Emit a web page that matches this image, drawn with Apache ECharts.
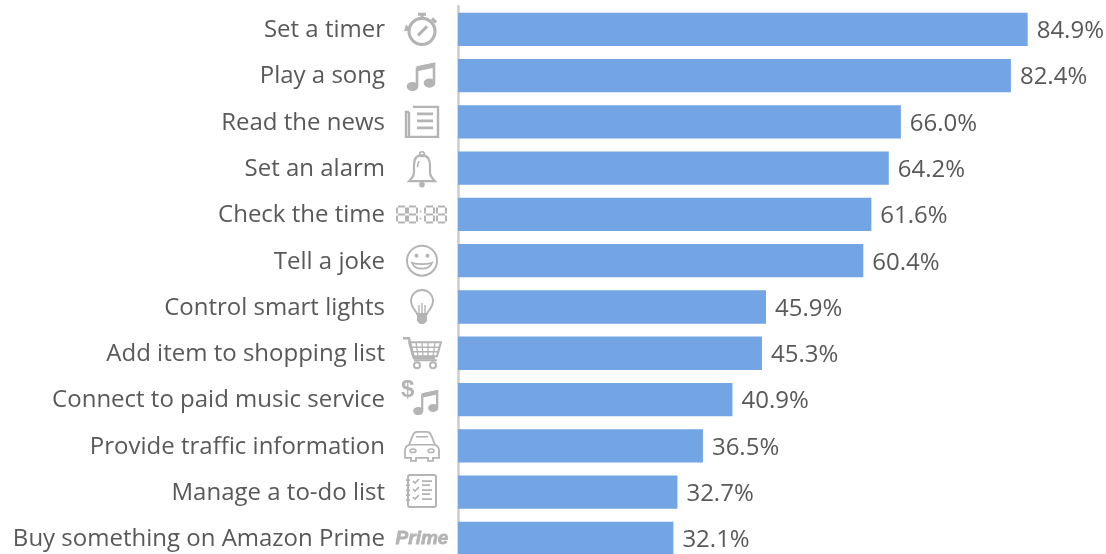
<!DOCTYPE html>
<html><head><meta charset="utf-8">
<style>html,body{margin:0;padding:0;background:#fff;overflow:hidden}#c{width:1106px;height:554px}</style>
<script src="https://cdn.jsdelivr.net/npm/echarts@6/dist/echarts.min.js"></script>
</head><body><div id="c"></div>
<script>
const categories = ["Set a timer","Play a song","Read the news","Set an alarm","Check the time","Tell a joke","Control smart lights","Add item to shopping list","Connect to paid music service","Provide traffic information","Manage a to-do list","Buy something on Amazon Prime"];
const values = [84.9,82.4,66.0,64.2,61.6,60.4,45.9,45.3,40.9,36.5,32.7,32.1];
const G = "#b4b4b4";
const digit = x => `<g transform="translate(${x} 0)" fill="none" stroke="${G}" stroke-width="2"><path d="M1 12h7M1 20h7M1 28h7M0 13v6M0 21v6M9 13v6M9 21v6"/></g>`;
const noteGlyph = `<path d="M15 10 L15 28 M15 10 L32 6.5 V25" fill="none" stroke="${G}" stroke-width="2.6"/><path d="M14.5 9 L33 5 V10 L14.5 14Z" fill="${G}"/><ellipse cx="10.5" cy="29" rx="5.8" ry="4.6" fill="${G}"/><ellipse cx="27.5" cy="25.5" rx="5.8" ry="4.6" fill="${G}"/>`;
const icons = [
 `<circle cx="27" cy="22" r="13" fill="none" stroke="${G}" stroke-width="3.2"/><path d="M23 5h8M27 5v4M37 9l4 4" stroke="${G}" stroke-width="3" fill="none"/><path d="M23 26l9-9" stroke="${G}" stroke-width="3"/><path d="M11 15l5 6-7 1z" fill="${G}"/>`,
 `<g transform="translate(7 2)">${noteGlyph}</g>`,
 `<path d="M18 5H43V35H14V10M14 10H11V35H16" fill="none" stroke="${G}" stroke-width="2.4"/><path d="M22 12H38M22 19H38M22 26H38" stroke="${G}" stroke-width="2.6"/>`,
 `<path d="M27 7c-6 0-8 5-8 10v7c0 4-2 6-5 9h26c-3-3-5-5-5-9v-7c0-5-2-10-8-10z" fill="none" stroke="${G}" stroke-width="2.2"/><circle cx="27" cy="6" r="2.4" fill="none" stroke="${G}" stroke-width="1.6"/><circle cx="27" cy="36.5" r="2.8" fill="${G}"/><path d="M24 13c-1 2-1.5 4-1.5 6" stroke="${G}" stroke-width="1.6" fill="none"/>`,
 digit(2)+digit(13)+`<circle cx="25.500" cy="17" r="1" fill="${G}"/><circle cx="25.500" cy="24" r="1" fill="${G}"/>`+digit(30)+digit(42),
 `<circle cx="27" cy="20" r="15" fill="none" stroke="${G}" stroke-width="2"/><circle cx="21.5" cy="15" r="2" fill="${G}"/><circle cx="32.5" cy="15" r="2" fill="${G}"/><path d="M17 22c3 8 17 8 20 0c-5 2-15 2-20 0z" fill="none" stroke="${G}" stroke-width="1.8"/>`,
 `<path d="M22 27c-1-4-6-6-6-13a11 11 0 0 1 22 0c0 7-5 9-6 13z" fill="none" stroke="${G}" stroke-width="1.8"/><path d="M24 27v-9M27 27v-11M30 27v-9" stroke="${G}" stroke-width="1.4"/><path d="M22 27h10v7l-3 3h-4l-3-3z" fill="${G}"/>`,
 `<path d="M8 5h6l5 20h21" fill="none" stroke="${G}" stroke-width="2.4"/><path d="M14 9H46L42 23H18z" fill="none" stroke="${G}" stroke-width="2"/><path d="M21 9l2 14M27 9l1 14M33 9v14M40 9l-2 14M15 14H45M16 18.500H44" stroke="${G}" stroke-width="1.3"/><circle cx="22" cy="32" r="3" fill="none" stroke="${G}" stroke-width="2"/><circle cx="38" cy="32" r="3" fill="none" stroke="${G}" stroke-width="2"/><path d="M19 27H42" stroke="${G}" stroke-width="2"/>`,
 `<text x="6" y="17" font-family="Liberation Sans" font-weight="700" font-size="24" fill="${G}">$</text><g transform="translate(14 6) scale(.88)">${noteGlyph}</g>`,
 `<path d="M14 19l4-10c1-2 2-3 4-3h10c2 0 3 1 4 3l4 10c3 1 4 3 4 6v7h-6v3h-5v-3H21v3h-5v-3h-6v-7c0-3 1-5 4-6z" fill="none" stroke="${G}" stroke-width="1.8"/><path d="M14 19H40M21 11h12" stroke="${G}" stroke-width="1.5"/><ellipse cx="18" cy="25" rx="3" ry="1.8" fill="none" stroke="${G}" stroke-width="1.5"/><ellipse cx="36" cy="25" rx="3" ry="1.8" fill="none" stroke="${G}" stroke-width="1.5"/>`,
 `<rect x="13" y="3" width="28" height="32" rx="2" fill="none" stroke="${G}" stroke-width="2"/><path d="M11 8h4M11 13h4M11 18h4M11 23h4M11 28h4" stroke="${G}" stroke-width="1.6"/><path d="M18 9l2 2 4-4M18 17l2 2 4-4M18 25l2 2 4-4" fill="none" stroke="${G}" stroke-width="1.6"/><path d="M27 9h10M27 13h8M27 18h10M27 22h8M27 27h10" stroke="${G}" stroke-width="1.6"/>`,
 `<text x="27" y="26" text-anchor="middle" font-family="Liberation Sans" font-weight="700" font-style="italic" font-size="19" stroke="${G}" stroke-width="0.8" fill="${G}">Prime</text>`
];
const svgUrl = s => "data:image/svg+xml;charset=utf-8," + encodeURIComponent(`<svg xmlns="http://www.w3.org/2000/svg" width="54" height="40" viewBox="0 0 54 40">${s}</svg>`);
const rich = { t: { fontFamily: "Open Sans", fontSize: 24, color: "#595959", padding: [2, 10, 0, 0] } };
icons.forEach((s, i) => { rich["i" + i] = { width: 54, height: 40, backgroundColor: { image: svgUrl(s) } }; });
const chart = echarts.init(document.getElementById("c"), null, { renderer: "canvas" });
chart.setOption({
  animation: false,
  backgroundColor: "#fff",
  grid: { left: 458, top: 6.2, width: 671, height: 555.3, containLabel: false, outerBoundsMode: "none" },
  xAxis: { type: "value", min: 0, max: 100, show: false },
  yAxis: {
    type: "category", data: categories, inverse: true, offset: 1,
    axisLine: { show: true, lineStyle: { color: "#cccccc", width: 2.5 } },
    axisTick: { show: false },
    axisLabel: {
      margin: 8, interval: 0, rich,
      formatter: (v) => `{t|${v}}{i${categories.indexOf(v)}|}`
    }
  },
  series: [{
    type: "bar", data: values, barWidth: 33.3,
    itemStyle: { color: "#73a5e5" },
    label: {
      show: true, position: "right", distance: 9, offset: [0, 2],
      fontFamily: "Open Sans", fontSize: 24, color: "#595959",
      formatter: p => p.value.toFixed(1) + "%"
    }
  }]
});
</script></body></html>
